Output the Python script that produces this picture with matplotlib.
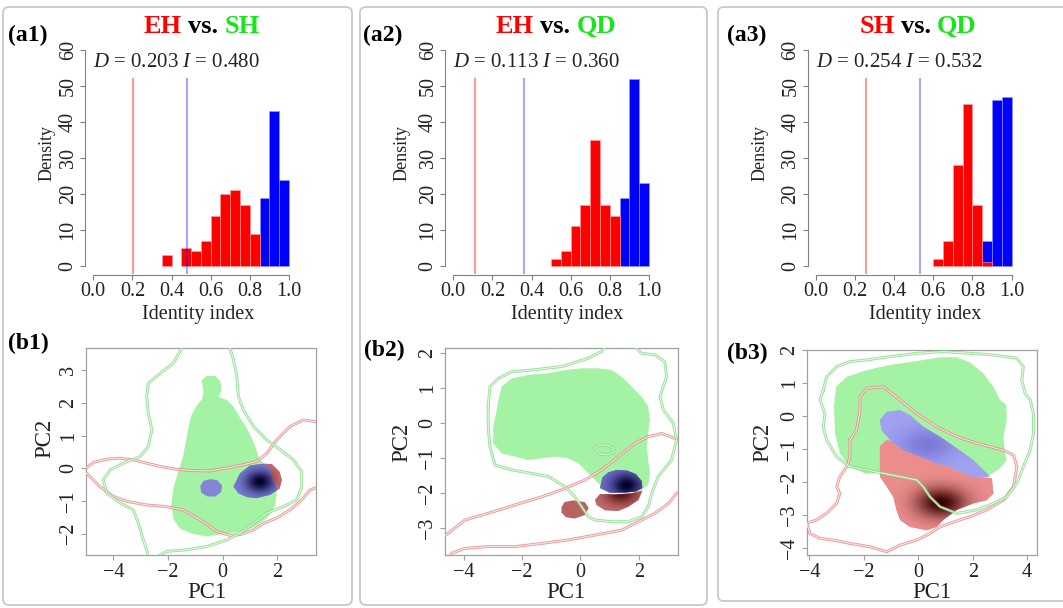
import matplotlib

matplotlib.use("Agg")
import matplotlib.patheffects as pe
import matplotlib.pyplot as plt
import numpy as np
from matplotlib.patches import FancyBboxPatch, Polygon

W, H = 1063, 608
DPI = 100

plt.rcParams["font.family"] = ["Liberation Serif", "DejaVu Serif"]
plt.rcParams["mathtext.fontset"] = "custom"
plt.rcParams["mathtext.rm"] = "Liberation Serif"
plt.rcParams["mathtext.it"] = "Liberation Serif:italic"

# ---- histogram data (density of null overlap values, bin width 0.05) ----
BIN_LEFTS = [0.35, 0.40, 0.45, 0.50, 0.55, 0.60, 0.65, 0.70, 0.75, 0.80, 0.85, 0.90, 0.95]
D_DENS_1 = [3, 0, 5, 4, 7, 14, 20, 21, 17, 9, 0, 0, 0]
I_DENS_1 = [0, 0, 0, 0, 0, 0, 0, 0, 0, 0, 19, 43, 24]
D_DENS_2 = [0, 0, 0, 2, 4, 11, 17, 35, 17, 14, 0, 0, 0]
I_DENS_2 = [0, 0, 0, 0, 0, 0, 0, 0, 0, 0, 19, 52, 23]
D_DENS_3 = [0, 0, 0, 0, 0, 2, 7, 28, 45, 17, 1, 0, 0]
I_DENS_3 = [0, 0, 0, 0, 0, 0, 0, 0, 0, 0, 7, 46, 47]
D_OBS = [0.203, 0.113, 0.254]
I_OBS = [0.480, 0.360, 0.532]
PAIRS = [("EH", "SH"), ("EH", "QD"), ("SH", "QD")]

# ---- niche space (PC1 / PC2) outlines ----
# b1
B1_GREEN_X = [-0.76, -0.58, -0.27, -0.07, -0.03, -0.15, 0.15, 0.40, 0.64, 0.89, 1.07, 1.22, 1.31, 1.50, 1.80,
              1.95, 1.98, 1.90, 1.65, 1.25, 0.80, 0.35, -0.10, -0.60, -1.10, -1.55, -1.80, -1.88, -1.80, -1.62,
              -1.45, -1.35, -1.25, -1.15, -0.98, -0.75, -0.70]
B1_GREEN_Y = [2.70, 2.83, 2.83, 2.65, 2.40, 2.19, 2.09, 1.89, 1.55, 1.23, 0.92, 0.62, 0.36, 0.16, -0.08,
              -0.40, -0.80, -1.20, -1.50, -1.75, -1.93, -1.98, -2.03, -2.08, -2.00, -1.85, -1.55, -1.10, -0.60,
              -0.10, 0.35, 0.80, 1.25, 1.60, 1.88, 2.12, 2.30]
B1_BLUE_SMALL_X = [-0.82, -0.70, -0.45, -0.20, -0.02, -0.05, -0.25, -0.55, -0.78]
B1_BLUE_SMALL_Y = [-0.55, -0.38, -0.33, -0.36, -0.52, -0.72, -0.86, -0.86, -0.75]
B1_BLUE_X = [0.40, 0.64, 1.01, 1.50, 1.68, 1.80, 1.92, 2.05, 1.74, 1.25, 0.89, 0.58]
B1_BLUE_Y = [-0.56, -0.15, 0.09, 0.14, 0.06, -0.20, -0.50, -0.64, -0.81, -0.91, -0.88, -0.76]
B1_RED_X = [1.50, 1.80, 2.08, 2.17, 2.08, 1.92, 1.80, 1.68]
B1_RED_Y = [0.14, 0.13, -0.10, -0.35, -0.64, -0.50, -0.20, 0.06]
B1_RED_LINE_X = [-5.1, -4.73, -4.24, -3.75, -3.27, -2.78, -2.29, -1.68, -1.07, -0.46, 0.15, 0.76, 1.25, 1.62,
                 1.98, 2.47, 2.96, 3.39, 3.82, 3.82, 3.21, 2.84, 2.47, 1.98, 1.50, 1.13, 0.64, 0.27, -0.21,
                 -0.82, -1.44, -2.05, -2.78, -3.51, -4.00, -4.49, -4.85]
B1_RED_LINE_Y = [-0.05, 0.18, 0.28, 0.31, 0.26, 0.16, 0.06, -0.03, -0.07, -0.08, 0.01, 0.11, 0.21, 0.46,
                 0.87, 1.28, 1.48, 1.43, 1.28, -0.45, -0.66, -1.01, -1.27, -1.52, -1.68, -1.88, -2.03, -2.05,
                 -1.93, -1.57, -1.27, -1.17, -1.12, -1.01, -0.86, -0.56, -0.25]
B1_GREEN_LINE_X = [-1.50, -1.50, -1.80, -2.35, -2.72, -2.78, -2.72, -2.59, -2.72, -3.02, -3.63, -4.12, -4.37,
                   -4.24, -3.75, -3.27, -3.08, -2.90, -2.78, -2.65, -2.29, -2.05, -1.31, -0.58, 0.15, 0.64,
                   1.13, 1.62, 2.23, 2.72, 2.90, 2.90, 2.59, 2.11, 1.62, 1.13, 0.76, 0.58, 0.52, 0.40, 0.27, 0.27]
B1_GREEN_LINE_Y = [3.93, 3.67, 3.22, 2.86, 2.60, 2.19, 1.69, 1.18, 0.67, 0.36, 0.16, -0.05, -0.35, -0.76,
                   -1.06, -1.27, -1.68, -2.19, -2.49, -2.90, -2.65, -2.54, -2.49, -2.39, -2.19, -1.98, -1.68,
                   -1.37, -1.17, -0.96, -0.56, -0.10, 0.26, 0.57, 0.87, 1.28, 1.79, 2.19, 2.81, 3.32, 3.67, 3.93]

# b2
B2_GREEN_X = [-2.81, -2.70, -2.36, -1.79, -1.10, -0.53, 0.04, 0.61, 1.07, 1.41, 1.75, 2.09, 2.32, 2.38, 2.32,
              2.27, 2.32, 2.38, 2.32, 2.09, 1.41, 0.84, 0.50, 0.15, -0.07, -0.42, -0.87, -1.33, -1.79, -2.24,
              -2.70, -2.99, -2.99, -2.87]
B2_GREEN_Y = [0.67, 1.05, 1.28, 1.38, 1.43, 1.52, 1.57, 1.57, 1.52, 1.33, 1.05, 0.76, 0.48, 0.09, -0.29,
              -0.67, -1.05, -1.43, -1.76, -1.90, -1.98, -1.90, -1.62, -1.33, -1.14, -1.00, -0.95, -1.00, -1.05,
              -0.95, -0.86, -0.57, -0.10, 0.38]
B2_GREEN_SMALL_X = [0.50, 0.65, 0.90, 1.10, 1.15, 0.95, 0.70, 0.55]
B2_GREEN_SMALL_Y = [-0.70, -0.62, -0.62, -0.70, -0.82, -0.90, -0.88, -0.80]
B2_BLUE_X = [0.67, 0.75, 0.95, 1.25, 1.60, 1.90, 2.10, 2.12, 1.90, 1.50, 1.00]
B2_BLUE_Y = [-1.85, -1.55, -1.40, -1.33, -1.35, -1.45, -1.65, -1.85, -1.95, -1.98, -1.98]
B2_RED_X = [0.50, 0.67, 1.18, 1.75, 2.12, 1.98, 1.64, 1.30, 0.84, 0.55]
B2_RED_Y = [-2.19, -2.02, -2.03, -2.00, -1.92, -2.19, -2.38, -2.50, -2.48, -2.33]
B2_RED_SMALL_X = [-0.65, -0.55, -0.25, 0.15, 0.28, 0.15, -0.20, -0.50, -0.65]
B2_RED_SMALL_Y = [-2.40, -2.25, -2.20, -2.25, -2.42, -2.62, -2.72, -2.68, -2.55]
B2_RED_LINE_X = [-4.87, -4.53, -3.96, -3.16, -2.24, -1.33, -0.65, 0.15, 0.73, 1.30, 1.87, 2.32, 2.78, 3.24,
                 3.69, 3.69, 3.29, 3.01, 2.55, 1.98, 1.41, 0.50, -0.42, -1.33, -2.24, -3.16, -3.96, -4.41,
                 -4.64, -4.98]
B2_RED_LINE_Y = [-3.33, -3.14, -2.76, -2.57, -2.33, -2.10, -1.90, -1.62, -1.33, -0.95, -0.57, -0.38, -0.29,
                 -0.43, -0.48, -1.81, -2.00, -2.29, -2.57, -2.81, -3.05, -3.19, -3.33, -3.43, -3.52, -3.52,
                 -3.57, -3.71, -4.00, -4.00]
B2_GREEN_LINE_X = [-3.16, -3.10, -2.81, -2.36, -1.67, -0.64, 0.27, 0.72, 0.95, 1.75, 2.09, 2.55, 2.89, 2.95,
                   2.72, 2.84, 3.18, 3.29, 3.12, 2.66, 2.44, 2.32, 2.09, 1.64, 1.07, 0.50, 0.27, 0.04, -0.19,
                   -0.53, -1.10, -1.67, -2.36, -2.93, -3.10, -3.16]
B2_GREEN_LINE_Y = [0.48, 1.05, 1.28, 1.47, 1.52, 1.62, 1.86, 2.05, 2.28, 2.28, 2.00, 1.95, 1.76, 1.33, 0.76,
                   0.38, 0.00, -0.48, -1.05, -1.52, -2.00, -2.38, -2.67, -2.81, -2.81, -2.76, -2.67, -2.38,
                   -2.10, -1.81, -1.52, -1.43, -1.33, -1.19, -0.67, -0.10]

# b3
B3_GREEN_X = [-3.02, -2.63, -1.90, -1.04, -0.18, 0.80, 1.41, 1.90, 2.39, 2.76, 3.00, 3.23, 3.25, 3.13, 3.19,
              3.25, 3.00, 2.63, 2.14, 1.65, 0.92, 0.18, -0.55, -1.29, -1.90, -2.51, -2.88, -3.06, -3.10]
B3_GREEN_Y = [0.89, 1.19, 1.39, 1.55, 1.65, 1.78, 1.78, 1.62, 1.29, 0.89, 0.49, 0.34, -0.12, -0.62, -1.13,
              -1.33, -1.58, -1.78, -1.85, -1.81, -1.53, -1.33, -1.43, -1.68, -1.75, -1.53, -1.13, -0.52, 0.29]
B3_BLUE_X = [-1.41, -1.16, -0.67, -0.31, 0.18, 0.80, 1.41, 2.02, 2.39, 2.63, 2.02, 1.78, 1.16, 0.68, 0.06,
             -0.55, -1.04, -1.35]
B3_BLUE_Y = [-0.12, 0.13, 0.18, 0.03, -0.32, -0.62, -0.97, -1.33, -1.63, -1.83, -1.83, -1.78, -1.53, -1.43,
             -1.23, -1.03, -0.72, -0.42]
B3_RED_X = [-1.41, -1.16, -0.80, -0.31, 0.31, 0.92, 1.65, 2.14, 2.70, 2.76, 2.51, 2.02, 1.41, 0.92, 0.68,
            0.31, -0.31, -0.67, -0.80, -0.92, -1.16, -1.41]
B3_RED_Y = [-0.92, -0.72, -0.82, -1.08, -1.28, -1.46, -1.73, -1.83, -1.88, -2.34, -2.54, -2.64, -2.84, -3.14,
            -3.35, -3.45, -3.35, -3.14, -2.84, -2.44, -2.13, -1.83]
B3_RED_LINE_X = [-2.51, -2.27, -2.14, -2.14, -1.90, -1.29, -0.67, -0.06, 0.68, 1.41, 2.14, 3.13, 3.50, 3.62,
                 3.50, 3.13, 2.51, 1.90, 1.16, 0.80, 0.43, -0.06, -0.67, -1.16, -1.78, -2.51, -3.12, -3.61,
                 -3.98, -4.10, -3.74, -3.37, -3.00, -2.88, -3.00, -2.88, -2.63, -2.51]
B3_RED_LINE_Y = [-0.72, -0.42, 0.18, 0.59, 0.84, 0.89, 0.49, 0.08, -0.32, -0.62, -0.82, -1.03, -1.18, -1.53,
                 -2.13, -2.54, -2.84, -3.04, -3.24, -3.35, -3.55, -3.75, -3.90, -4.10, -3.95, -3.85, -3.75,
                 -3.70, -3.55, -3.24, -3.14, -2.94, -2.64, -2.34, -2.13, -1.83, -1.53, -1.23]
B3_GREEN_LINE_X = [-3.49, -3.37, -3.00, -2.51, -1.90, -1.04, -0.06, 0.92, 1.90, 2.76, 3.62, 3.86, 3.80, 3.92,
                   4.11, 4.23, 4.23, 4.11, 3.86, 3.62, 3.25, 2.76, 2.14, 1.41, 0.80, 0.43, 0.18, -0.06, -0.67,
                   -1.29, -1.90, -2.51, -3.00, -3.37, -3.49, -3.43, -3.61]
B3_GREEN_LINE_Y = [0.79, 1.19, 1.50, 1.65, 1.70, 1.80, 1.90, 1.95, 1.90, 1.85, 1.75, 1.50, 1.09, 0.69, 0.49,
                   0.08, -0.52, -1.03, -1.53, -2.03, -2.44, -2.64, -2.84, -2.94, -2.74, -2.44, -2.13, -1.93,
                   -1.83, -1.73, -1.63, -1.53, -1.23, -0.72, -0.32, 0.08, 0.49]

# density peaks used for the shading of overlap / exclusive areas
B1_BLUE_PEAK = (1.37, -0.42)
B1_RED_PEAK = (1.62, -0.35)
B2_BLUE_PEAK = (1.58, -1.78)
B2_RED_PEAK = (1.40, -2.02)
B3_BLUE_PEAK = (0.30, -0.85)
B3_RED_PEAK = (0.80, -2.62)

GREEN_FILL = "#a4f3a4"
GREEN_LINE = "#7ed87e"
RED_LINE = "#e88080"


def px_axes(fig, left, top, right, bottom):
    return fig.add_axes([left / W, 1 - bottom / H, (right - left) / W, (bottom - top) / H], facecolor="none")


def shaded(ax, xs, ys, light, dark=None, peak=None, spread=(0.5, 0.3), zorder=2):
    poly = Polygon(np.column_stack([xs, ys]), closed=True, facecolor=light, edgecolor="none", zorder=zorder)
    ax.add_patch(poly)
    if peak is None:
        return
    x0, x1 = ax.get_xlim()
    y0, y1 = ax.get_ylim()
    gx, gy = np.meshgrid(np.linspace(x0, x1, 400), np.linspace(y0, y1, 400))
    t = np.exp(-(((gx - peak[0]) / spread[0]) ** 2 + ((gy - peak[1]) / spread[1]) ** 2))[..., None]
    lo = np.array(matplotlib.colors.to_rgb(light))
    hi = np.array(matplotlib.colors.to_rgb(dark))
    im = ax.imshow(lo * (1 - t) + hi * t, extent=(x0, x1, y0, y1), origin="lower", aspect="auto",
                   interpolation="bilinear", zorder=zorder + 0.1)
    im.set_clip_path(poly)
    ax.set_xlim(x0, x1)
    ax.set_ylim(y0, y1)


def outline(ax, xs, ys, color):
    # two thin parallel strokes, like the doubled contour lines of the original
    ax.plot(list(xs) + [xs[0]], list(ys) + [ys[0]], color="none", zorder=6,
            path_effects=[pe.Stroke(linewidth=2.1, foreground=color, alpha=0.8),
                          pe.Stroke(linewidth=0.8, foreground="white", alpha=0.75)])


def bars(ax, dens, color, edge, zorder):
    lefts = [b for b, d in zip(BIN_LEFTS, dens) if d > 0]
    heights = [d for d in dens if d > 0]
    ax.bar(lefts, heights, width=0.05, align="edge", color=color, edgecolor=edge, lw=0.4, zorder=zorder)


fig = plt.figure(figsize=(W / DPI, H / DPI), dpi=DPI)
bg = fig.add_axes([0, 0, 1, 1])
bg.set_xlim(0, W)
bg.set_ylim(H, 0)
bg.axis("off")
bg.set_zorder(-1)

# panel frames
for x0, x1, y1 in [(3, 352, 605), (360, 707, 605), (718, 1075, 601)]:
    bg.add_patch(FancyBboxPatch((x0, 7), x1 - x0, y1 - 7, boxstyle="round,pad=0,rounding_size=6",
                                facecolor="none", edgecolor="#c9c9c9", lw=1.3))

# ---- top row: histograms ----
hist_zero_px = [93.3, 453.3, 816.0]
px_per_unit = 195.6
d_dens = [D_DENS_1, D_DENS_2, D_DENS_3]
i_dens = [I_DENS_1, I_DENS_2, I_DENS_3]
title_cx = [203, 555, 916]
ylab_x = [47, 402, 760]
xlab_x = [198, 567, 925]
tag_x = [8, 363, 727]
for k in range(3):
    left = hist_zero_px[k] - 0.04 * px_per_unit
    right = hist_zero_px[k] + 1.04 * px_per_unit
    ax = px_axes(fig, left, 41.5, right, 274.5)
    ax.set_xlim(-0.04, 1.04)
    ax.set_ylim(-2.4, 62.4)
    bars(ax, i_dens[k], "#0000ff", "#9a9aff", 2)
    bars(ax, d_dens[k], "#ff0000", "#ffa0a0", 3)
    ax.plot([D_OBS[k], D_OBS[k]], [-2, 52], color="#ff0000", alpha=0.4, lw=1.5, zorder=4)
    ax.plot([I_OBS[k], I_OBS[k]], [-2, 52], color="#0000ff", alpha=0.35, lw=1.5, zorder=4)
    ax.text(0.0, 56.5, f"$D$ = {D_OBS[k]:.3f} $I$ = {I_OBS[k]:.3f}", fontsize=15, color="#222222",
            ha="left", va="center")
    for side in ["top", "right"]:
        ax.spines[side].set_visible(False)
    for side in ["left", "bottom"]:
        ax.spines[side].set_color("#808080")
        ax.spines[side].set_linewidth(0.8)
    ax.spines["left"].set_bounds(0, 60)
    ax.spines["bottom"].set_bounds(0, 1)
    ax.set_xticks([0.0, 0.2, 0.4, 0.6, 0.8, 1.0])
    ax.set_yticks([0, 10, 20, 30, 40, 50, 60])
    ax.tick_params(length=3.6, width=0.8, color="#808080", labelsize=14.5, labelcolor="#222222", pad=2)
    plt.setp(ax.get_yticklabels(), rotation=90, va="center")

    bg.text(ylab_x[k], 153, "Density", rotation=90, ha="center", va="center", fontsize=13, color="#222222")
    bg.text(xlab_x[k], 314, "Identity index", ha="center", va="center", fontsize=14.5, color="#222222")
    bg.text(tag_x[k], 35, f"(a{k + 1})", ha="left", va="center", fontsize=17, weight="bold")

    mid = bg.text(title_cx[k], 33, "vs.", ha="center", va="baseline", fontsize=19, weight="bold")
    bg.annotate(PAIRS[k][0], xy=(0, 0), xycoords=mid, xytext=(-4.5, 0), textcoords="offset points",
                ha="right", va="bottom", fontsize=19, weight="bold", color="#ff0000")
    bg.annotate(PAIRS[k][1], xy=(1, 0), xycoords=mid, xytext=(4.5, 0), textcoords="offset points",
                ha="left", va="bottom", fontsize=19, weight="bold", color="#19e619")

# ---- bottom row: niche overlap in PC space ----
boxes = [(86, 348, 316, 555), (445, 348, 678, 555), (806.7, 350, 1036.7, 555)]
xlims = [(-5.0, 3.42), (-4.64, 3.34), (-4.10, 4.35)]
ylims = [(-2.65, 3.68), (-3.76, 2.15), (-4.20, 2.0)]
xticks = [[-4, -2, 0, 2], [-4, -2, 0, 2], [-4, -2, 0, 2, 4]]
yticks = [[-2, -1, 0, 1, 2, 3], [-3, -2, -1, 0, 1, 2], [-4, -3, -2, -1, 0, 1, 2]]
pc1_x = [207, 566, 932]
pc2 = [(45, 438), (402, 442), (763, 442)]
btag = [(8, 343), (364, 350), (727, 353)]
axes_b = []
for k in range(3):
    ax = px_axes(fig, *boxes[k])
    ax.set_xlim(*xlims[k])
    ax.set_ylim(*ylims[k])
    ax.set_xticks(xticks[k])
    ax.set_yticks(yticks[k])
    for sp in ax.spines.values():
        sp.set_color("#a0a0a0")
        sp.set_linewidth(0.9)
    ax.tick_params(length=3.6, width=0.8, color="#a0a0a0", labelsize=14.5, labelcolor="#222222", pad=2)
    plt.setp(ax.get_yticklabels(), rotation=90, va="center")
    bg.text(pc1_x[k], 593, "PC1", ha="center", va="center", fontsize=16.5, color="#222222")
    bg.text(pc2[k][0], pc2[k][1], "PC2", rotation=90, ha="center", va="center", fontsize=16.5, color="#222222")
    bg.text(btag[k][0], btag[k][1], f"(b{k + 1})", ha="left", va="center", fontsize=17, weight="bold")
    axes_b.append(ax)

# b1
ax = axes_b[0]
shaded(ax, B1_GREEN_X, B1_GREEN_Y, GREEN_FILL)
shaded(ax, B1_RED_X, B1_RED_Y, "#c87070", "#8a3030", B1_RED_PEAK, (0.35, 0.3), zorder=3)
shaded(ax, B1_BLUE_SMALL_X, B1_BLUE_SMALL_Y, "#8585d8", zorder=4)
shaded(ax, B1_BLUE_X, B1_BLUE_Y, "#7c7cd8", "#00002a", B1_BLUE_PEAK, (0.5, 0.32), zorder=4)
outline(ax, B1_RED_LINE_X, B1_RED_LINE_Y, RED_LINE)
outline(ax, B1_GREEN_LINE_X, B1_GREEN_LINE_Y, GREEN_LINE)

# b2
ax = axes_b[1]
shaded(ax, B2_GREEN_X, B2_GREEN_Y, GREEN_FILL)
shaded(ax, B2_RED_SMALL_X, B2_RED_SMALL_Y, "#b86262", zorder=3)
shaded(ax, B2_RED_X, B2_RED_Y, "#c46e6e", "#5a1212", B2_RED_PEAK, (0.55, 0.3), zorder=3)
shaded(ax, B2_BLUE_X, B2_BLUE_Y, "#6e6ecc", "#00002a", B2_BLUE_PEAK, (0.5, 0.32), zorder=4)
outline(ax, B2_GREEN_SMALL_X, B2_GREEN_SMALL_Y, GREEN_LINE)
outline(ax, B2_RED_LINE_X, B2_RED_LINE_Y, RED_LINE)
outline(ax, B2_GREEN_LINE_X, B2_GREEN_LINE_Y, GREEN_LINE)

# b3
ax = axes_b[2]
shaded(ax, B3_GREEN_X, B3_GREEN_Y, GREEN_FILL)
shaded(ax, B3_RED_X, B3_RED_Y, "#ec8e8e", "#3a0000", B3_RED_PEAK, (0.9, 0.45), zorder=3)
shaded(ax, B3_BLUE_X, B3_BLUE_Y, "#a2a2f2", "#7a7ad8", B3_BLUE_PEAK, (1.0, 0.5), zorder=4)
outline(ax, B3_RED_LINE_X, B3_RED_LINE_Y, RED_LINE)
outline(ax, B3_GREEN_LINE_X, B3_GREEN_LINE_Y, GREEN_LINE)

fig.savefig("out.png", dpi=DPI)
